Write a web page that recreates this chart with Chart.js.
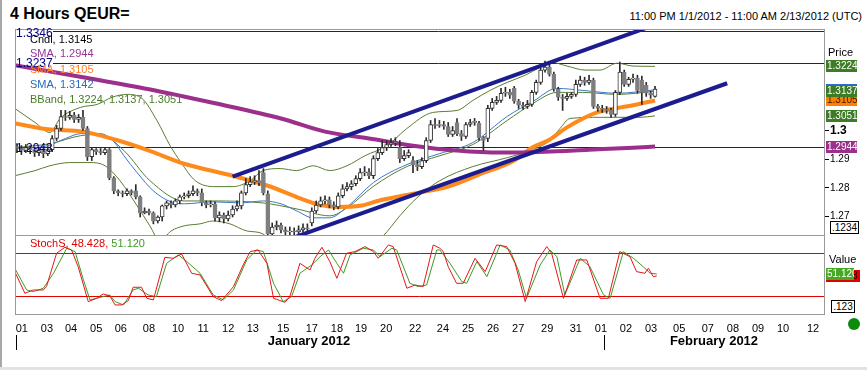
<!DOCTYPE html>
<html>
<head>
<meta charset="utf-8">
<script src="https://cdn.jsdelivr.net/npm/chart.js@4.4.0/dist/chart.umd.min.js"></script>
<style>
  body { margin: 0; background: #fff; }
  #wrap { position: relative; width: 867px; height: 370px; overflow: hidden; background: #fff;
          font-family: "Liberation Sans", Arial, sans-serif; }
  #wrap canvas { position: absolute; left: 0; }
  .t { position: absolute; white-space: nowrap; line-height: 1; font-size: 11px; color: #000; }
  .box { position: absolute; border: 1px solid #000; font-size: 10px; line-height: 11px; text-align: center; background: #fff; }
</style>
</head>
<body>
<div id="wrap">
  <canvas id="main" width="867" height="207" style="top:29px"></canvas>
  <canvas id="stoch" width="867" height="135" style="top:235px"></canvas>

  <div style="position:absolute;left:0;top:0;width:2px;height:370px;background:#a8a8a8"></div>
  <div style="position:absolute;left:0;top:367px;width:867px;height:3px;background:#e2e2e2"></div>

  <div class="t" style="left:10px;top:6px;font-size:16px;font-weight:bold">4 Hours QEUR=</div>
  <div class="t" style="right:5px;top:11px">11:00 PM 1/1/2012 - 11:00 AM 2/13/2012 (UTC)</div>

  <div class="t" style="left:16px;top:27px;font-size:12px;color:#000080">1.3346</div>
  <div class="t" style="left:16px;top:57px;font-size:12px;color:#000080">1.3237</div>
  <div class="t" style="left:16px;top:142px;font-size:12px;color:#000080">1.2943</div>

  <div class="t" style="left:30px;top:34px">Cndl, 1.3145</div>
  <div class="t" style="left:30px;top:48px;color:#993399">SMA, 1.2944</div>
  <div class="t" style="left:30px;top:64px;color:#ff7f27">SMA, 1.3105</div>
  <div class="t" style="left:30px;top:79px;color:#2a6ab8">SMA, 1.3142</div>
  <div class="t" style="left:30px;top:94px;color:#4a7a2a">BBand, 1.3224, 1.3137, 1.3051</div>

  <div class="t" style="left:828px;top:47px">Price</div>
  <div class="box" style="left:830px;top:221px;width:27px;height:11px">.1234</div>

  <div class="t" style="left:30px;top:238px"><span style="color:#e00000">StochS, 48.428, </span><span style="color:#3f9a22">51.120</span></div>
  <div class="t" style="left:829px;top:254px">Value</div>
  <div class="box" style="left:831px;top:300px;width:22px;height:11px">.123</div>
  <div style="position:absolute;left:848px;top:318px;width:12px;height:12px;border-radius:50%;background:#0b8a0b"></div>

  <div class="t" style="left:309px;top:334px;font-size:13px;font-weight:bold;transform:translateX(-50%)">January 2012</div>
  <div class="t" style="left:714px;top:334px;font-size:13px;font-weight:bold;transform:translateX(-50%)">February 2012</div>
  <div style="position:absolute;left:16px;top:335px;width:1px;height:15px;background:#000"></div>
  <div style="position:absolute;left:604px;top:335px;width:1px;height:15px;background:#000"></div>
</div>

<script>
// 4-hour candles, bar index 0 = 11 PM 1/1/2012
const candleOpen = [
  1.2944, 1.2937, 1.2930, 1.2940, 1.2933, 1.2923, 1.2930, 1.2919, 1.2933, 1.2972,
  1.3007, 1.3049, 1.3046, 1.3053, 1.3039, 1.3046, 1.3007, 1.2909, 1.2933, 1.2926,
  1.2923, 1.2933, 1.2835, 1.2789, 1.2782, 1.2779, 1.2789, 1.2789, 1.2768, 1.2712,
  1.2719, 1.2712, 1.2684, 1.2698, 1.2737, 1.2747, 1.2740, 1.2754, 1.2768, 1.2772,
  1.2779, 1.2789, 1.2782, 1.2747, 1.2740, 1.2744, 1.2695, 1.2705, 1.2691, 1.2705,
  1.2726, 1.2737, 1.2782, 1.2811, 1.2821, 1.2825, 1.2853, 1.2779, 1.2639, 1.2663,
  1.2670, 1.2653, 1.2646, 1.2649, 1.2646, 1.2653, 1.2660, 1.2677, 1.2719, 1.2740,
  1.2754, 1.2758, 1.2740, 1.2733, 1.2772, 1.2796, 1.2804, 1.2814, 1.2832, 1.2853,
  1.2856, 1.2842, 1.2902, 1.2923, 1.2940, 1.2951, 1.2958, 1.2940, 1.2902, 1.2912,
  1.2895, 1.2881, 1.2874, 1.2895, 1.2965, 1.3021, 1.3018, 1.3021, 1.3014, 1.2986,
  1.3028, 1.2989, 1.2979, 1.3021, 1.3028, 1.3025, 1.2975, 1.2972, 1.3077, 1.3098,
  1.3105, 1.3130, 1.3133, 1.3147, 1.3102, 1.3088, 1.3084, 1.3091, 1.3133, 1.3168,
  1.3211, 1.3221, 1.3197, 1.3144, 1.3116, 1.3112, 1.3119, 1.3126, 1.3161, 1.3176,
  1.3168, 1.3176, 1.3084, 1.3077, 1.3074, 1.3070, 1.3056, 1.3133, 1.3204, 1.3161,
  1.3179, 1.3183, 1.3176, 1.3158, 1.3130, 1.3119
];
const candleHigh = [
  1.2954, 1.2947, 1.2951, 1.2947, 1.2940, 1.2940, 1.2937, 1.2944, 1.2982, 1.3018,
  1.3070, 1.3070, 1.3067, 1.3063, 1.3056, 1.3070, 1.3014, 1.2940, 1.2937, 1.2937,
  1.2940, 1.2937, 1.2839, 1.2793, 1.2789, 1.2796, 1.2793, 1.2811, 1.2772, 1.2730,
  1.2726, 1.2716, 1.2702, 1.2740, 1.2754, 1.2754, 1.2761, 1.2775, 1.2782, 1.2789,
  1.2807, 1.2796, 1.2796, 1.2754, 1.2754, 1.2751, 1.2716, 1.2712, 1.2719, 1.2737,
  1.2754, 1.2789, 1.2832, 1.2839, 1.2842, 1.2860, 1.2867, 1.2789, 1.2677, 1.2684,
  1.2677, 1.2663, 1.2663, 1.2660, 1.2667, 1.2674, 1.2674, 1.2730, 1.2754, 1.2768,
  1.2772, 1.2768, 1.2751, 1.2782, 1.2811, 1.2818, 1.2825, 1.2842, 1.2867, 1.2874,
  1.2867, 1.2912, 1.2937, 1.2965, 1.2965, 1.2972, 1.2975, 1.2965, 1.2930, 1.2933,
  1.2909, 1.2895, 1.2905, 1.2975, 1.3035, 1.3042, 1.3035, 1.3032, 1.3028, 1.3014,
  1.3042, 1.3000, 1.3028, 1.3039, 1.3042, 1.3032, 1.2979, 1.3088, 1.3112, 1.3119,
  1.3147, 1.3151, 1.3144, 1.3154, 1.3109, 1.3098, 1.3105, 1.3140, 1.3176, 1.3218,
  1.3242, 1.3232, 1.3204, 1.3151, 1.3126, 1.3130, 1.3133, 1.3176, 1.3190, 1.3186,
  1.3193, 1.3183, 1.3091, 1.3088, 1.3084, 1.3077, 1.3140, 1.3239, 1.3211, 1.3186,
  1.3197, 1.3193, 1.3190, 1.3168, 1.3137, 1.3154
];
const candleLow = [
  1.2923, 1.2916, 1.2923, 1.2919, 1.2909, 1.2912, 1.2905, 1.2912, 1.2926, 1.2965,
  1.3000, 1.3035, 1.3039, 1.3028, 1.3028, 1.3000, 1.2895, 1.2895, 1.2916, 1.2916,
  1.2916, 1.2828, 1.2779, 1.2772, 1.2768, 1.2772, 1.2775, 1.2761, 1.2698, 1.2709,
  1.2705, 1.2674, 1.2677, 1.2684, 1.2726, 1.2730, 1.2733, 1.2744, 1.2761, 1.2765,
  1.2772, 1.2772, 1.2737, 1.2730, 1.2733, 1.2684, 1.2681, 1.2677, 1.2684, 1.2698,
  1.2719, 1.2726, 1.2775, 1.2804, 1.2811, 1.2807, 1.2775, 1.2628, 1.2628, 1.2653,
  1.2642, 1.2632, 1.2635, 1.2632, 1.2635, 1.2646, 1.2642, 1.2667, 1.2712, 1.2733,
  1.2744, 1.2730, 1.2723, 1.2726, 1.2765, 1.2789, 1.2793, 1.2807, 1.2825, 1.2842,
  1.2832, 1.2832, 1.2895, 1.2916, 1.2930, 1.2944, 1.2947, 1.2888, 1.2895, 1.2905,
  1.2853, 1.2860, 1.2867, 1.2888, 1.2958, 1.3007, 1.3011, 1.3004, 1.2979, 1.2979,
  1.2982, 1.2965, 1.2972, 1.3014, 1.3018, 1.2965, 1.2930, 1.2961, 1.3070, 1.3091,
  1.3098, 1.3119, 1.3112, 1.3095, 1.3077, 1.3074, 1.3077, 1.3084, 1.3126, 1.3161,
  1.3204, 1.3190, 1.3137, 1.3105, 1.3070, 1.3105, 1.3112, 1.3119, 1.3154, 1.3158,
  1.3161, 1.3077, 1.3067, 1.3063, 1.3060, 1.3046, 1.3049, 1.3126, 1.3154, 1.3154,
  1.3168, 1.3130, 1.3091, 1.3119, 1.3112, 1.3116
];
const candleClose = [
  1.2937, 1.2930, 1.2940, 1.2933, 1.2923, 1.2930, 1.2919, 1.2933, 1.2972, 1.3007,
  1.3049, 1.3046, 1.3053, 1.3039, 1.3046, 1.3007, 1.2909, 1.2933, 1.2926, 1.2923,
  1.2933, 1.2835, 1.2789, 1.2782, 1.2779, 1.2789, 1.2782, 1.2768, 1.2712, 1.2719,
  1.2712, 1.2684, 1.2698, 1.2737, 1.2747, 1.2740, 1.2754, 1.2768, 1.2772, 1.2779,
  1.2789, 1.2782, 1.2747, 1.2740, 1.2744, 1.2695, 1.2705, 1.2691, 1.2705, 1.2726,
  1.2737, 1.2782, 1.2811, 1.2821, 1.2825, 1.2818, 1.2782, 1.2639, 1.2663, 1.2670,
  1.2653, 1.2646, 1.2649, 1.2646, 1.2653, 1.2660, 1.2656, 1.2719, 1.2740, 1.2754,
  1.2758, 1.2740, 1.2733, 1.2772, 1.2796, 1.2804, 1.2814, 1.2832, 1.2853, 1.2856,
  1.2842, 1.2902, 1.2923, 1.2940, 1.2951, 1.2958, 1.2961, 1.2902, 1.2912, 1.2923,
  1.2881, 1.2874, 1.2895, 1.2965, 1.3021, 1.3018, 1.3021, 1.3014, 1.2986, 1.3000,
  1.2989, 1.2979, 1.3021, 1.3028, 1.3032, 1.2975, 1.2965, 1.3077, 1.3098, 1.3105,
  1.3130, 1.3133, 1.3123, 1.3102, 1.3088, 1.3084, 1.3091, 1.3133, 1.3168, 1.3211,
  1.3221, 1.3197, 1.3144, 1.3116, 1.3112, 1.3119, 1.3126, 1.3161, 1.3176, 1.3168,
  1.3176, 1.3084, 1.3077, 1.3074, 1.3070, 1.3056, 1.3133, 1.3204, 1.3161, 1.3179,
  1.3183, 1.3140, 1.3133, 1.3130, 1.3123, 1.3145
];

// indicator lines, read at bar positions
const smaLongBars = [-0.5, 15, 30, 45, 60, 70, 80, 90, 100, 110, 120, 130, 140, 145];
const smaLong = [1.3228, 1.3186, 1.3144, 1.3095, 1.3042, 1.2996, 1.2972, 1.2947, 1.2930, 1.2923, 1.2926, 1.2933, 1.2940, 1.2944];

const smaMidBars = [-0.5, 7, 15, 23, 30, 38, 49, 57, 64, 69, 73, 78, 82, 90, 98, 105, 113, 117, 121, 125, 132, 140, 145];
const smaMid = [1.3025, 1.3004, 1.2996, 1.2965, 1.2930, 1.2884, 1.2842, 1.2807, 1.2765, 1.2740, 1.2733, 1.2737,
  1.2754, 1.2779, 1.2804, 1.2846, 1.2895, 1.2940, 1.2968, 1.3011, 1.3064, 1.3088, 1.3105];

const smaShortBars = [-0.5, 7, 11, 14.5, 19, 22, 24.3, 27.3, 31, 35, 38, 44.5, 50.7, 56, 60, 63.6, 67.3, 71, 75, 81,
  88.6, 96, 103.6, 111.4, 117.3, 122.7, 128.6, 136.4, 145];
const smaShort = [1.2937, 1.2947, 1.2972, 1.2989, 1.2989, 1.2961, 1.2912, 1.2853, 1.2789, 1.2751, 1.2744, 1.2751,
  1.2747, 1.2754, 1.2744, 1.2719, 1.2695, 1.2695, 1.2733, 1.2818, 1.2881, 1.2919, 1.2958, 1.3049, 1.3102, 1.3147,
  1.3140, 1.3130, 1.3142];

const bandUpperBars = [-0.5, 4.1, 7.5, 9.8, 14.5, 18.2, 21.6, 25, 28.4, 31.8, 34.8, 37.3, 40.5, 45, 49.1, 53, 55.9,
  59.8, 63.6, 67.3, 71.1, 75, 79.1, 84.1, 88.6, 94.5, 100, 103.6, 107.5, 111.4, 115.5, 118.9, 121.1, 125, 129.1,
  132.5, 136.4, 140, 145];
const bandUpper = [1.3077, 1.3028, 1.2993, 1.3042, 1.3081, 1.3091, 1.3116, 1.3126, 1.3112, 1.3035, 1.2947, 1.2888,
  1.2825, 1.2804, 1.2804, 1.2825, 1.2860, 1.2867, 1.2860, 1.2877, 1.2860, 1.2877, 1.2912, 1.2947, 1.3007, 1.3063,
  1.3070, 1.3105, 1.3140, 1.3168, 1.3193, 1.3221, 1.3239, 1.3225, 1.3211, 1.3211, 1.3235, 1.3225, 1.3224];

const bandMidBars = [-0.5, 7.5, 14.5, 18.9, 24.3, 30.2, 38, 44.5, 55.9, 63.6, 71.1, 75, 80.9, 88.6, 96.1, 103.6,
  111.4, 117.3, 122.7, 128.6, 136.4, 145];
const bandMid = [1.2940, 1.2954, 1.2982, 1.2986, 1.2930, 1.2825, 1.2754, 1.2754, 1.2747, 1.2726, 1.2702, 1.2730,
  1.2804, 1.2874, 1.2912, 1.2951, 1.3035, 1.3095, 1.3133, 1.3133, 1.3126, 1.3137];

const bandLowerBars = [-0.5, 4.1, 7.5, 12, 16.6, 20, 23.4, 27.3, 30.2, 32.5, 35, 38, 41.6, 44.5, 48.4, 52.3, 55.9,
  59.8, 68.9, 76.8, 83.2, 87, 90.9, 96.1, 103.6, 111.4, 116.6, 121.1, 123.4, 125.7, 132.5, 136.4, 141.6, 145];
const bandLower = [1.2842, 1.2860, 1.2877, 1.2888, 1.2888, 1.2877, 1.2825, 1.2737, 1.2667, 1.2614, 1.2649, 1.2667,
  1.2674, 1.2684, 1.2674, 1.2649, 1.2639, 1.2561, 1.2537, 1.2572, 1.2632, 1.2702, 1.2765, 1.2825, 1.2874, 1.2905,
  1.2930, 1.2965, 1.3007, 1.3042, 1.3046, 1.3046, 1.3046, 1.3051];

// drawn channel and horizontal levels
const trendUpperBars = [49, 143.5];
const trendUpper = [1.2839, 1.3361];
const trendLowerBars = [63, 161.4];
const trendLower = [1.2627, 1.3165];
const levelValues = [1.3346, 1.3237, 1.2943];

// slow stochastic
const stochKBars = [-0.5, 1.8, 3.7, 6.0, 6.7, 9.0, 10.9, 12.4, 13.9, 16.2, 18.1, 19.6, 21.1, 22.3, 23.8, 25.3, 26.4,
  28.3, 29.5, 31.0, 33.6, 35.5, 37.4, 39.7, 41.6, 44.6, 46.5, 49.2, 51.4, 53.0, 54.8, 56.8, 58.3, 59.0, 60.9, 62.0,
  64.3, 66.6, 67.7, 69.3, 71.1, 72.7, 74.9, 76.8, 79.1, 81.0, 82.1, 84.4, 85.5, 88.6, 90.5, 92.3, 94.6, 96.1, 96.9,
  98.0, 99.9, 101.4, 104.1, 106.4, 109.0, 111.3, 113.2, 115.5, 118.1, 120.4, 121.5, 124.2, 127.2, 129.5, 132.5,
  134.4, 137.0, 139.3, 140.8, 142.7, 143.5, 144.6, 145.4];
const stochK = [54.4, 24.2, 28.8, 28.8, 33.5, 80, 88.4, 84.6, 61.4, 12.6, 17.2, 23.3, 20.5, 7.9, 7.9, 14, 32.6, 32.6,
  17.2, 14.9, 74.4, 73, 79.1, 52.1, 49.8, 19.5, 14, 33.5, 63.7, 82.3, 84.6, 66, 17.2, 15.8, 11.6, 19.5, 66, 56.7, 73,
  88.4, 68.4, 45.1, 80, 82.3, 89.3, 82.3, 73, 91.6, 89.3, 31.2, 35.8, 33.5, 91.6, 87, 82.3, 61.4, 38.1, 38.1, 73,
  54.4, 91.6, 89.3, 66, 12.6, 68.4, 89.3, 80, 17.2, 70.7, 70.7, 17.2, 17.2, 82.3, 75.3, 54.4, 52.1, 59.1, 47.4, 48.428];
const stochDBars = [-0.5, 2.2, 3.7, 6.0, 8.3, 11.3, 13.2, 15.1, 16.6, 18.1, 21.1, 22.3, 24.2, 26.4, 27.6, 29.8, 31.7,
  34.0, 36.7, 38.6, 41.6, 44.6, 46.9, 49.2, 52.2, 54.5, 56.0, 58.3, 60.5, 62.4, 64.3, 67.0, 68.9, 70.8, 72.7, 74.2,
  75.7, 78.7, 81.0, 82.5, 85.2, 86.3, 89.3, 91.2, 93.1, 95.4, 96.1, 98.4, 101.1, 102.2, 104.5, 106.8, 109.8, 112.0,
  113.9, 115.8, 118.9, 121.1, 122.7, 124.5, 128.0, 130.2, 133.3, 134.8, 137.8, 140.1, 142.3, 143.9, 145.4];
const stochD = [59.1, 28.8, 26.5, 31.2, 52.1, 87, 82.3, 42.8, 14.9, 17.2, 21.9, 12.6, 7.9, 28.8, 31.2, 21.9, 19.5, 66,
  77.7, 68.4, 52.1, 21.9, 14.9, 28.8, 70.7, 84.6, 82.3, 38.1, 12.6, 19.5, 52.1, 63.7, 75.3, 84.6, 66, 52.1, 77.7, 87,
  84.6, 75.3, 87, 84.6, 38.1, 33.5, 35.8, 84.6, 84.6, 66, 40.5, 38.1, 68.4, 47.4, 91.6, 84.6, 56.7, 17.2, 63.7, 84.6,
  75.3, 21.9, 73, 61.4, 21.9, 17.2, 82.3, 73, 61.4, 52.1, 51.12];
const stochLevels = [80, 20];

// axes
const tickBars = [1.1, 6.8, 12.3, 18, 23.6, 30, 36.6, 42.3, 48, 53.6, 60.5, 67, 72.7, 78.2, 83.9, 90.5, 96.8, 102.5,
  108.2, 113.9, 120.5, 127, 132.7, 138.4, 144.1, 150.5, 157, 162.7, 168.4, 174.1, 180.9];
const tickLabels = ['01', '03', '04', '05', '06', '08', '10', '11', '12', '13', '15', '17', '18', '19', '20', '22',
  '24', '25', '26', '27', '29', '31', '01', '02', '03', '05', '07', '08', '09', '10', '12'];
const priceTicks = [1.27, 1.28, 1.29, 1.3];

const FONT = '"Liberation Sans", Arial, sans-serif';
Chart.defaults.font.family = FONT;

const X_MIN = -0.45, X_MAX = 183.4;
const pts = (xs, ys) => xs.map((x, k) => ({ x, y: ys[k] }));
const isUp = i => candleClose[i] >= candleOpen[i];
const bars = candleOpen.map((_, i) => i);

function drawBox(ctx, x, cy, w, text, bg, fg) {
  ctx.save();
  ctx.beginPath();
  ctx.rect(x, cy - 6, w, 12);
  ctx.clip();
  ctx.fillStyle = bg;
  ctx.fillRect(x, cy - 6, w, 12);
  ctx.fillStyle = fg;
  ctx.font = '10px ' + FONT;
  ctx.textBaseline = 'middle';
  ctx.fillText(text, x + 1, cy + 0.5);
  ctx.restore();
}

const mainDecor = {
  id: 'mainDecor',
  beforeDatasetsDraw(chart) {
    const { ctx, chartArea: a, scales: { y } } = chart;
    ctx.save();
    ctx.strokeStyle = '#1a1a80';
    ctx.lineWidth = 1;
    levelValues.forEach((v, k) => {
      const py = Math.round(y.getPixelForValue(v)) + 0.5;
      ctx.beginPath();
      ctx.moveTo(a.left + (k < 2 ? 38 : 0), py);
      ctx.lineTo(a.right, py);
      ctx.stroke();
    });
    ctx.restore();
  },
  afterDraw(chart) {
    const { ctx, chartArea: a, scales: { y } } = chart;
    ctx.save();
    ctx.strokeStyle = '#9a9a9a';
    ctx.lineWidth = 1;
    ctx.strokeRect(a.left + 0.5, a.top + 0.5, a.right - a.left, a.bottom - a.top - 1);
    ctx.restore();
    const boxes = [
      [smaMid[smaMid.length - 1], '#ff8000', '#3a1a00'],
      [smaShort[smaShort.length - 1], '#2f6fc0', '#fff'],
      [bandUpper[bandUpper.length - 1], '#3d7b24', '#fff'],
      [bandMid[bandMid.length - 1], '#3d7b24', '#fff'],
      [bandLower[bandLower.length - 1], '#3d7b24', '#fff'],
      [smaLong[smaLong.length - 1], '#9c2f8c', '#fff']
    ];
    boxes.forEach(([v, bg, fg]) => {
      drawBox(ctx, a.right + 2, Math.round(y.getPixelForValue(v)), 31, v.toFixed(4), bg, fg);
    });
  }
};

const stochDecor = {
  id: 'stochDecor',
  beforeDatasetsDraw(chart) {
    const { ctx, chartArea: a, scales: { y } } = chart;
    ctx.save();
    ctx.strokeStyle = '#e00000';
    ctx.lineWidth = 1;
    stochLevels.forEach(v => {
      const py = Math.round(y.getPixelForValue(v)) + 0.5;
      ctx.beginPath();
      ctx.moveTo(a.left, py);
      ctx.lineTo(a.right, py);
      ctx.stroke();
    });
    ctx.restore();
  },
  afterDraw(chart) {
    const { ctx, chartArea: a, scales: { y } } = chart;
    ctx.save();
    ctx.strokeStyle = '#9a9a9a';
    ctx.lineWidth = 1;
    ctx.strokeRect(a.left + 0.5, a.top + 0.5, a.right - a.left, a.bottom - a.top - 1);
    ctx.restore();
    const k = stochK[stochK.length - 1], d = stochD[stochD.length - 1];
    drawBox(ctx, a.right + 2, Math.round(y.getPixelForValue(k)), 34, k.toFixed(3), '#e00000', '#2a0000');
    drawBox(ctx, a.right + 2, Math.round(y.getPixelForValue(d)), 28, d.toFixed(3), '#44aa22', '#fff');
  }
};

const smooth = { cubicInterpolationMode: 'monotone', pointRadius: 0, fill: false };

new Chart(document.getElementById('main'), {
  type: 'bar',
  data: {
    datasets: [
      { type: 'line', data: pts(trendUpperBars, trendUpper), borderColor: '#1c1c8f', borderWidth: 4, pointRadius: 0, order: 1 },
      { type: 'line', data: pts(trendLowerBars, trendLower), borderColor: '#1c1c8f', borderWidth: 4, pointRadius: 0, order: 1 },
      {
        type: 'bar', order: 3, grouped: false, barThickness: 4, borderWidth: 1, borderSkipped: false,
        data: bars.map(i => ({ x: i, y: [candleOpen[i], candleClose[i]] })),
        backgroundColor: bars.map(i => isUp(i) ? '#ffffff' : '#7f7f7f'),
        borderColor: bars.map(i => isUp(i) ? '#333333' : '#7f7f7f')
      },
      {
        type: 'bar', order: 4, grouped: false, barThickness: 1,
        data: bars.map(i => ({ x: i, y: [candleLow[i], candleHigh[i]] })),
        backgroundColor: '#2a2a2a'
      },
      { type: 'line', data: pts(smaLongBars, smaLong), borderColor: '#9c2f8c', borderWidth: 4, order: 5, ...smooth },
      { type: 'line', data: pts(smaMidBars, smaMid), borderColor: '#ff8a1c', borderWidth: 4, order: 5, ...smooth },
      { type: 'line', data: pts(smaShortBars, smaShort), borderColor: '#3a78c8', borderWidth: 1, order: 6, ...smooth },
      { type: 'line', data: pts(bandUpperBars, bandUpper), borderColor: '#5a7d32', borderWidth: 1, order: 6, ...smooth },
      { type: 'line', data: pts(bandMidBars, bandMid), borderColor: '#5a7d32', borderWidth: 1, order: 6, ...smooth },
      { type: 'line', data: pts(bandLowerBars, bandLower), borderColor: '#5a7d32', borderWidth: 1, order: 6, ...smooth }
    ]
  },
  options: {
    responsive: false, animation: false, devicePixelRatio: 1, events: [],
    layout: { padding: { left: 15, right: 0, top: 0, bottom: 0 } },
    plugins: { legend: { display: false }, tooltip: { enabled: false } },
    scales: {
      x: { type: 'linear', min: X_MIN, max: X_MAX, offset: false, display: false },
      y: {
        position: 'right', min: 1.26316, max: 1.33544,
        afterFit: s => { s.width = 43; s.paddingTop = 0; s.paddingBottom = 0; },
        afterBuildTicks: s => { s.ticks = priceTicks.map(v => ({ value: v })); },
        grid: { drawOnChartArea: false, drawTicks: true, tickLength: 5, color: '#000' },
        border: { display: false },
        ticks: {
          padding: 1, color: '#000',
          font: c => (c.tick && c.tick.value === 1.3) ? { size: 12, weight: 'bold' } : { size: 10 },
          callback: v => v === 1.3 ? '1.3' : v.toFixed(2)
        }
      }
    }
  },
  plugins: [mainDecor]
});

new Chart(document.getElementById('stoch'), {
  type: 'line',
  data: {
    datasets: [
      { data: pts(stochDBars, stochD), borderColor: '#3f9a22', borderWidth: 1, pointRadius: 0, order: 2 },
      { data: pts(stochKBars, stochK), borderColor: '#e8141b', borderWidth: 1, pointRadius: 0, order: 1 }
    ]
  },
  options: {
    responsive: false, animation: false, devicePixelRatio: 1, events: [],
    layout: { padding: { left: 15, right: 0, top: 0, bottom: 0 } },
    plugins: { legend: { display: false }, tooltip: { enabled: false } },
    scales: {
      x: {
        type: 'linear', min: X_MIN, max: X_MAX, offset: false,
        afterFit: s => { s.height = 55; s.paddingLeft = 0; s.paddingRight = 0; },
        afterBuildTicks: s => { s.ticks = tickBars.map(v => ({ value: v })); },
        grid: { display: false }, border: { display: false },
        ticks: {
          autoSkip: false, maxRotation: 0, padding: -1, color: '#000', font: { size: 11 },
          callback: (v, i) => tickLabels[i]
        }
      },
      y: {
        position: 'right', min: -6.1, max: 105.5,
        afterFit: s => { s.width = 43; s.paddingTop = 0; s.paddingBottom = 0; },
        ticks: { display: false }, grid: { display: false }, border: { display: false }
      }
    }
  },
  plugins: [stochDecor]
});
</script>
</body>
</html>
